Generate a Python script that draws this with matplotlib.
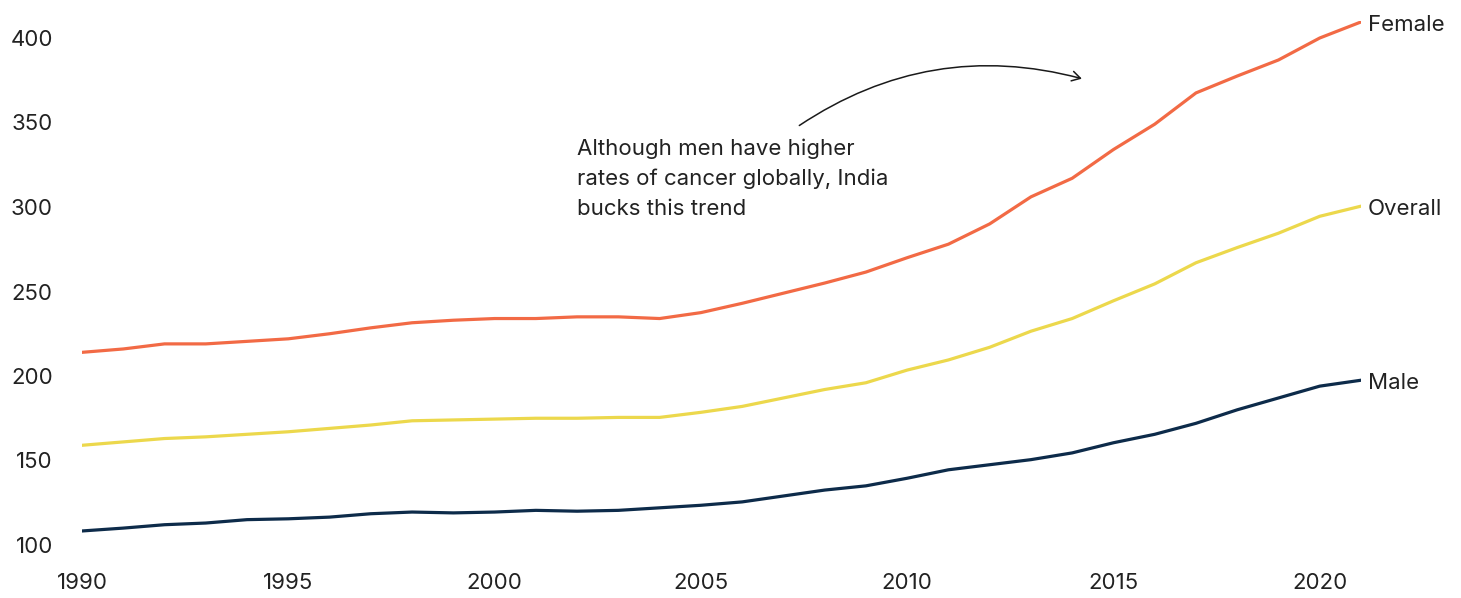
import matplotlib
matplotlib.use("Agg")
import matplotlib.pyplot as plt
from matplotlib.patches import FancyArrowPatch

years = list(range(1990, 2022))
female = [214, 216, 219, 219, 220.5, 222, 225, 228.5, 231.5, 233, 234, 234, 235, 235, 234, 237.5,
          243, 249, 255, 261.5, 270, 278, 290, 306, 317, 334, 349, 367.5, 377.5, 387, 400, 409.5]
overall = [159, 161, 163, 164, 165.5, 167, 169, 171, 173.5, 174, 174.5, 175, 175, 175.5, 175.5, 178.5,
           182, 187, 192, 196, 203.5, 209.5, 217, 226.5, 234, 244.5, 254.5, 267, 276, 284.5, 294.5, 300.5]
male = [108.3, 110, 112, 113, 115, 115.5, 116.5, 118.5, 119.5, 119, 119.5, 120.5, 120, 120.5, 122, 123.5,
        125.5, 129, 132.5, 135, 139.5, 144.5, 147.5, 150.5, 154.5, 160.5, 165.5, 172, 180, 187, 194, 197.5]
series_names = ["Female", "Overall", "Male"]
colors = ["#f26a45", "#ecd84c", "#0d2b4a"]
yticks = [100, 150, 200, 250, 300, 350, 400]
xticks = [1990, 1995, 2000, 2005, 2010, 2015, 2020]
note = "Although men have higher\nrates of cancer globally, India\nbucks this trend"

plt.rcParams["font.family"] = ["Inter", "DejaVu Sans"]
text_col = "#222222"

W, H = 1461, 598
fig = plt.figure(figsize=(W / 100, H / 100), dpi=100)
ax = fig.add_axes([82 / W, (H - 545) / H, (1361 - 82) / W, (545 - 21.1) / H])

for vals, name, col in zip([female, overall, male], series_names, colors):
    ax.plot(years, vals, color=col, lw=2.3, solid_capstyle="round", solid_joinstyle="round")
    ax.annotate(name, (years[-1], vals[-1]), xytext=(5, -2), textcoords="offset points",
                va="center", ha="left", fontsize=16, color=text_col, annotation_clip=False)

ax.set_xlim(1990, 2021)
ax.set_ylim(100, 410)
ax.set_xticks(xticks)
ax.set_yticks(yticks)
ax.tick_params(axis="both", length=0, labelsize=16, labelcolor=text_col)
ax.tick_params(axis="y", pad=21)
ax.tick_params(axis="x", pad=20)
for s in ax.spines.values():
    s.set_visible(False)

ax.text(2002.0, 340.5, note, fontsize=16, color=text_col, va="top", ha="left", linespacing=1.6)

# curved pointer from the note towards the female line
arrow = FancyArrowPatch((2007.33, 347.3), (2014.3, 375.5), connectionstyle="arc3,rad=-0.23",
                        arrowstyle="->,head_length=6,head_width=3.5", color="#1a1a1a", lw=1.1)
ax.add_patch(arrow)

fig.savefig("out.png", dpi=100)
